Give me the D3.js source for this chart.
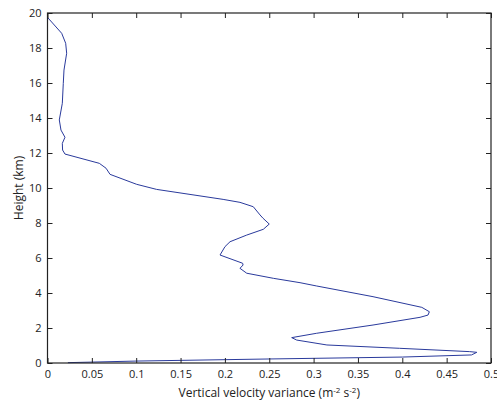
<!DOCTYPE html>
<html><head><meta charset="utf-8">
<script src="https://cdn.jsdelivr.net/npm/d3@7"></script>
<style>
body{margin:0;background:#fff;}
text{font-family:"Open Sans","DejaVu Sans",sans-serif;fill:#222;}
</style></head>
<body><svg id="c" width="497" height="403"></svg>
<script>
const heights = [19.75,18.84,18.27,17.7,16.74,15.98,14.84,13.89,13.31,12.9,12.55,12.17,11.94,11.41,11.13,10.78,10.21,9.92,9.35,9.18,8.93,8.46,8.27,7.94,7.64,7.31,6.93,6.65,6.17,5.7,5.6,5.41,5.13,4.84,4.59,4.4,3.79,3.18,2.93,2.74,2.61,2.17,1.7,1.45,1.31,1.03,0.84,0.65,0.61,0.46,0.34,0.23,0.11,0.02];
const variance = [0.0,0.016,0.0205,0.0216,0.0186,0.0178,0.0167,0.0133,0.0152,0.0197,0.0167,0.017,0.0197,0.0584,0.066,0.0705,0.1005,0.123,0.198,0.217,0.232,0.2396,0.243,0.25,0.2433,0.2246,0.2058,0.2001,0.1945,0.22,0.2205,0.217,0.2246,0.2546,0.2847,0.3035,0.367,0.422,0.4305,0.429,0.42,0.367,0.3035,0.2753,0.281,0.315,0.397,0.476,0.484,0.478,0.4,0.25,0.1,0.023];
const xTicks = [0,0.05,0.1,0.15,0.2,0.25,0.3,0.35,0.4,0.45,0.5];
const yTicks = [0,2,4,6,8,10,12,14,16,18,20];

const svg = d3.select("#c");
const L=47.5, R=491, T=13, B=363;
const x = d3.scaleLinear().domain([0,0.5]).range([L,R]);
const y = d3.scaleLinear().domain([0,20]).range([B,T]);
const tl=5;

const line = d3.line().x((d,i)=>x(variance[i])).y(d=>y(d));
svg.append("path").datum(heights).attr("d",line)
  .attr("fill","none").attr("stroke","#2a3a9c").attr("stroke-width",1);

const fmt = d=>String(d);
const ax = (g)=>{g.selectAll(".domain").remove(); g.selectAll("line").attr("stroke","#222"); g.selectAll("text").style("font-size","11px");};
svg.append("g").attr("transform",`translate(0,${B})`)
  .call(d3.axisBottom(x).tickValues(xTicks).tickFormat(fmt).tickSizeInner(-tl).tickPadding(7))
  .call(ax);
svg.append("g").attr("transform",`translate(0,${T})`)
  .call(d3.axisTop(x).tickValues(xTicks).tickFormat("").tickSizeInner(-tl)).call(ax);
svg.append("g").attr("transform",`translate(${L},0)`)
  .call(d3.axisLeft(y).tickValues(yTicks).tickFormat(fmt).tickSizeInner(-tl).tickPadding(6))
  .call(ax);
svg.append("g").attr("transform",`translate(${R},0)`)
  .call(d3.axisRight(y).tickValues(yTicks).tickFormat("").tickSizeInner(-tl)).call(ax);

svg.append("rect").attr("x",L).attr("y",T).attr("width",R-L).attr("height",B-T)
  .attr("fill","none").attr("stroke","#222").attr("stroke-width",1.2);

const xl = svg.append("text").attr("x",(L+R)/2).attr("y",397).attr("text-anchor","middle").style("font-size","12px");
xl.append("tspan").text("Vertical velocity variance (m");
xl.append("tspan").attr("dy",-4).style("font-size","8px").text("-2");
xl.append("tspan").attr("dy",4).text(" s");
xl.append("tspan").attr("dy",-4).style("font-size","8px").text("-2");
xl.append("tspan").attr("dy",4).text(")");

svg.append("text").attr("transform",`translate(22.5,${(T+B)/2}) rotate(-90)`).attr("text-anchor","middle").style("font-size","12px").text("Height (km)");
</script></body></html>
